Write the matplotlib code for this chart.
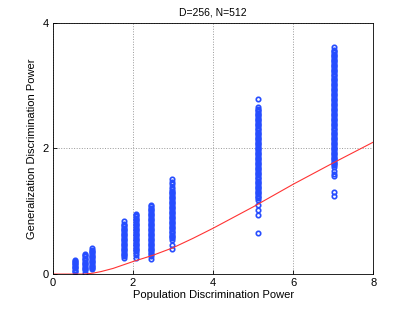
import numpy as np
import matplotlib
matplotlib.use('Agg')
from matplotlib import pyplot as plt

# column positions (population discrimination power)
col_x = [0.55, 0.80, 0.98, 1.78, 2.07, 2.44, 2.98, 5.13, 7.03]

# generalization discrimination power, read per column
col_y = [
    [0.23, 0.21, 0.19, 0.18, 0.16, 0.14, 0.12, 0.11, 0.09, 0.07, 0.05, 0.04],
    [0.32, 0.30, 0.28, 0.26, 0.24, 0.22, 0.20, 0.18, 0.16, 0.14, 0.12, 0.10,
     0.08, 0.06, 0.02],
    [0.41, 0.39, 0.37, 0.35, 0.33, 0.31, 0.29, 0.27, 0.25, 0.23, 0.21, 0.19,
     0.17, 0.15, 0.13, 0.11, 0.09, 0.08],
    [0.85, 0.80, 0.78, 0.76, 0.74, 0.72, 0.70, 0.68, 0.66, 0.64, 0.62, 0.60,
     0.58, 0.56, 0.54, 0.52, 0.50, 0.48, 0.46, 0.44, 0.42, 0.40, 0.38, 0.36,
     0.34, 0.32, 0.30, 0.28, 0.25],
    [0.96, 0.94, 0.92, 0.90, 0.88, 0.86, 0.84, 0.82, 0.80, 0.78, 0.76, 0.74,
     0.72, 0.70, 0.68, 0.66, 0.64, 0.62, 0.60, 0.58, 0.56, 0.54, 0.52, 0.50,
     0.48, 0.46, 0.44, 0.42, 0.40, 0.38, 0.36, 0.34, 0.31, 0.26],
    [1.10, 1.08, 1.06, 1.04, 1.02, 1.00, 0.98, 0.96, 0.94, 0.92, 0.90, 0.88,
     0.86, 0.84, 0.82, 0.80, 0.78, 0.76, 0.74, 0.72, 0.70, 0.68, 0.66, 0.64,
     0.62, 0.60, 0.58, 0.56, 0.54, 0.52, 0.50, 0.48, 0.46, 0.44, 0.42, 0.40,
     0.38, 0.36, 0.34, 0.32, 0.29, 0.24],
    [1.51, 1.47, 1.43, 1.39, 1.35, 1.33, 1.31, 1.29, 1.27, 1.25, 1.23, 1.21,
     1.19, 1.17, 1.15, 1.13, 1.11, 1.09, 1.07, 1.05, 1.03, 1.01, 0.99, 0.97,
     0.95, 0.93, 0.91, 0.89, 0.87, 0.85, 0.83, 0.81, 0.79, 0.77, 0.75, 0.73,
     0.71, 0.69, 0.67, 0.65, 0.63, 0.61, 0.59, 0.57, 0.55, 0.47, 0.40],
    [2.79, 2.66, 2.63, 2.61, 2.59, 2.57, 2.55, 2.53, 2.51, 2.49, 2.47, 2.45,
     2.43, 2.41, 2.39, 2.37, 2.35, 2.33, 2.31, 2.29, 2.27, 2.25, 2.23, 2.21,
     2.19, 2.17, 2.15, 2.13, 2.11, 2.09, 2.07, 2.05, 2.03, 2.01, 1.99, 1.97,
     1.95, 1.93, 1.91, 1.89, 1.87, 1.85, 1.83, 1.81, 1.79, 1.77, 1.75, 1.73,
     1.71, 1.69, 1.67, 1.65, 1.63, 1.61, 1.59, 1.57, 1.55, 1.53, 1.51, 1.49,
     1.47, 1.45, 1.43, 1.41, 1.39, 1.37, 1.35, 1.33, 1.31, 1.29, 1.27, 1.25,
     1.23, 1.21, 1.18, 1.10, 1.02, 0.94, 0.66],
    [3.61, 3.57, 3.55, 3.53, 3.51, 3.49, 3.47, 3.45, 3.43, 3.41, 3.39, 3.37,
     3.35, 3.33, 3.31, 3.29, 3.27, 3.25, 3.23, 3.21, 3.19, 3.17, 3.15, 3.13,
     3.11, 3.09, 3.07, 3.05, 3.03, 3.01, 2.99, 2.97, 2.95, 2.93, 2.91, 2.89,
     2.87, 2.85, 2.83, 2.81, 2.79, 2.77, 2.75, 2.73, 2.71, 2.69, 2.67, 2.65,
     2.63, 2.61, 2.59, 2.57, 2.55, 2.53, 2.51, 2.49, 2.47, 2.45, 2.43, 2.41,
     2.39, 2.37, 2.35, 2.33, 2.31, 2.29, 2.27, 2.25, 2.23, 2.21, 2.19, 2.17,
     2.15, 2.13, 2.11, 2.09, 2.07, 2.05, 2.03, 2.01, 1.99, 1.97, 1.95, 1.93,
     1.91, 1.89, 1.87, 1.85, 1.83, 1.81, 1.79, 1.77, 1.75, 1.73, 1.71, 1.64,
     1.60, 1.56, 1.30, 1.24],
]

# theoretical curve
curve_x = [0, 0.8, 1.0, 1.2, 1.5, 2.0, 2.5, 3.0, 3.5, 4.0, 5.0, 6.0, 7.0, 8.0]
curve_y = [0, 0, 0.015, 0.04, 0.09, 0.20, 0.30, 0.42, 0.57, 0.73, 1.07, 1.43,
           1.77, 2.10]

plt.rcParams['font.family'] = ['Liberation Sans', 'DejaVu Sans']
plt.rcParams['font.size'] = 8

fig = plt.figure(figsize=(4.11, 3.09), dpi=100)
ax = fig.add_axes([0.129, 0.113, 0.779, 0.813])

for x, ys in zip(col_x, col_y):
    ax.plot([x] * len(ys), ys, 'o', mfc='none', mec=(0.15, 0.3, 1.0),
            ms=3.2, mew=1.2)
ax.plot(curve_x, curve_y, '-', color=(1.0, 0.2, 0.2), lw=0.8)

ax.set_xlim(0, 8)
ax.set_ylim(0, 4)
ax.set_xticks([0, 2, 4, 6, 8])
ax.set_yticks([0, 2, 4])
ax.grid(True, linestyle=':', color='0.6', lw=0.7)
ax.tick_params(direction='in', length=3, width=0.6, pad=3, labelsize=8)
for s in ax.spines.values():
    s.set_linewidth(0.6)
ax.set_title('D=256, N=512', fontsize=7.5, pad=5)
ax.set_xlabel('Population Discrimination Power', labelpad=1)
ax.set_ylabel('Generalization Discrimination Power', labelpad=4)

fig.savefig('out.png', dpi=100)
